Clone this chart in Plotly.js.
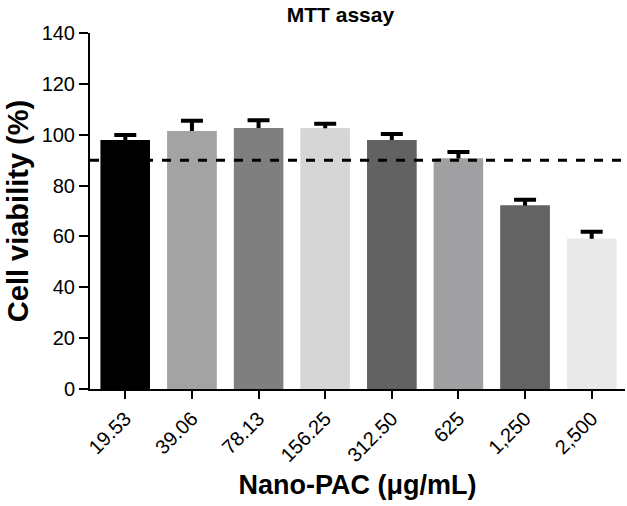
<!DOCTYPE html>
<html><head><meta charset="utf-8">
<script src="https://cdn.plot.ly/plotly-3.0.1.min.js"></script>
<style>body{margin:0;background:#fff}#c{width:627px;height:506px}</style>
</head><body><div id="c"></div>
<script>
const categories = ["19.53","39.06","78.13","156.25","312.50","625","1,250","2,500"];
const viability = [97.9, 101.5, 102.6, 102.5, 97.9, 90.6, 72.2, 59.1];
const errPlus = [2.0, 4.0, 3.1, 1.8, 2.4, 2.6, 2.2, 2.7];
const barColors = ["#000000","#a3a3a3","#7f7f7f","#d6d6d6","#626262","#a0a0a3","#636363","#e9e9e9"];
const threshold = 90;

const barBase = {type: 'bar', x: categories, y: viability, marker: {color: barColors}, width: 0.74, hoverinfo: 'skip'};

Plotly.newPlot('c', [
  Object.assign({}, barBase, {
    error_y: {type: 'data', array: errPlus, color: '#000', thickness: 4, width: 11}
  }),
  Object.assign({}, barBase)
], {
  width: 627, height: 506,
  barmode: 'overlay',
  margin: {l: 90, r: 2, t: 33, b: 117},
  paper_bgcolor: '#fff', plot_bgcolor: '#fff',
  showlegend: false,
  font: {family: 'Liberation Sans, Arial, sans-serif', color: '#000', size: 20},
  title: {text: '<b>MTT assay</b>', x: 0.543, xanchor: 'center', y: 0.985, yanchor: 'top', font: {size: 21}},
  xaxis: {
    type: 'category', range: [-0.53, 7.5],
    showline: true, linecolor: '#000', linewidth: 2,
    ticks: 'outside', ticklen: 8, tickwidth: 2, tickcolor: '#000',
    tickangle: -45, showgrid: false, zeroline: false,
    tickfont: {size: 20},
    title: {text: '<b>Nano-PAC (μg/mL)</b>', font: {size: 27}, standoff: 10}
  },
  yaxis: {
    range: [0, 140], tickvals: [0,20,40,60,80,100,120,140],
    showline: true, linecolor: '#000', linewidth: 2,
    ticks: 'outside', ticklen: 9, tickwidth: 2, tickcolor: '#000',
    showgrid: false, zeroline: false,
    tickfont: {size: 20},
    title: {text: '<b>Cell viability (%)</b>', font: {size: 29}, standoff: 4}
  },
  shapes: [{type: 'line', xref: 'paper', yref: 'y', x0: 0, x1: 1, y0: threshold, y1: threshold,
            line: {color: '#000', width: 3, dash: 'dash'}}]
}, {displayModeBar: false});
</script></body></html>
